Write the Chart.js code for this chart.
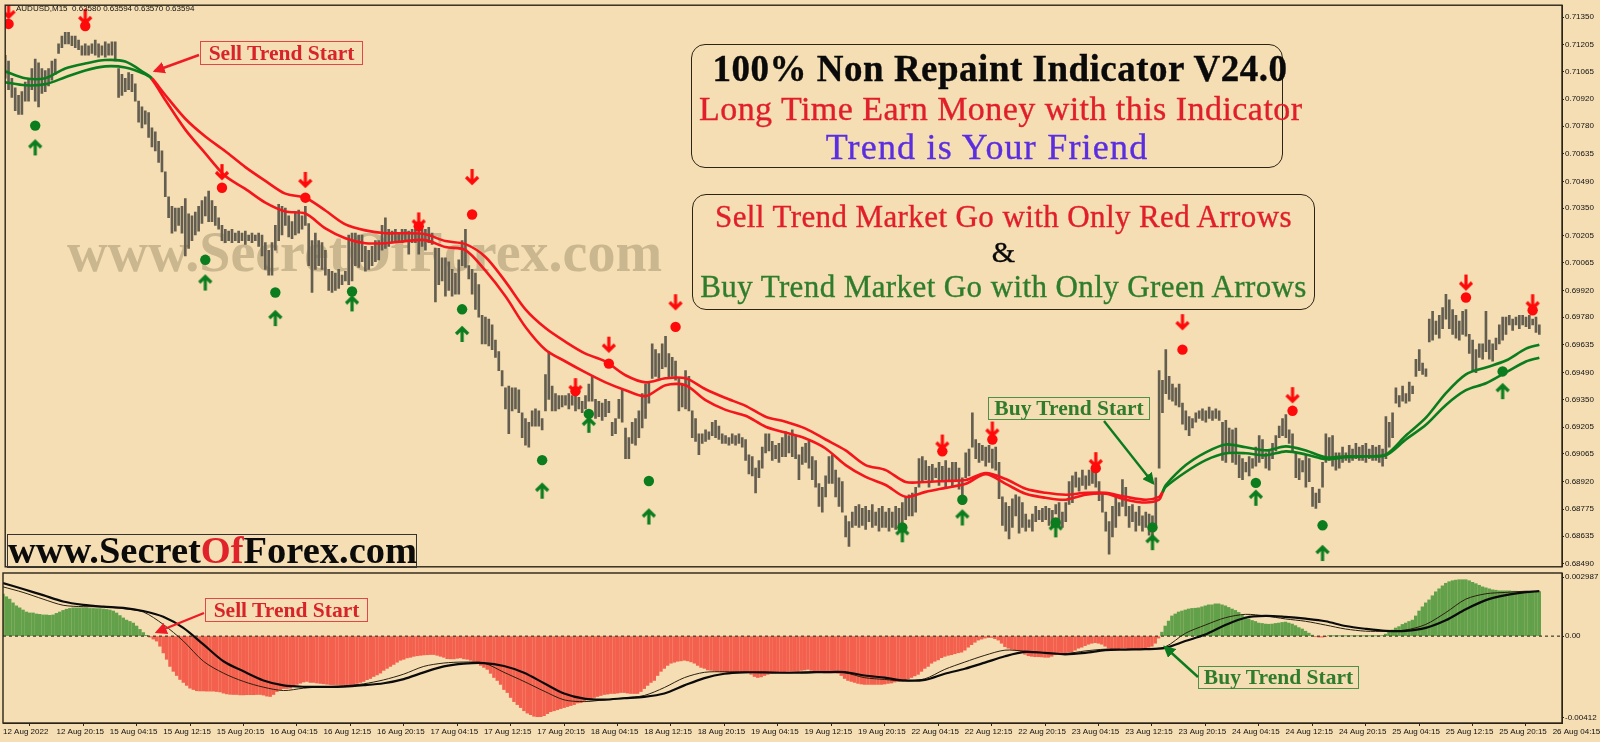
<!DOCTYPE html>
<html>
<head>
<meta charset="utf-8">
<title>AUDUSD M15</title>
<script src="https://cdn.jsdelivr.net/npm/chart.js@4/dist/chart.umd.min.js"></script>
<style>
    html, body { margin: 0; padding: 0; background: #f5deb3; }
    #page { position: relative; width: 1600px; height: 742px; overflow: hidden; background: #f5deb3; }
    canvas { position: absolute; left: 0; }
    #main-chart { top: 0; }
    #osc-chart { top: 572px; }
    .note { position: absolute; font-family: "Liberation Serif", serif; text-align: center; white-space: nowrap; -webkit-text-stroke: 0.35px currentColor; }
    .box { position: absolute; border: 1px solid #2b2417; border-radius: 14px; box-sizing: border-box; }
    .tag { position: absolute; box-sizing: border-box; font-family: "Liberation Serif", serif; font-weight: bold; text-align: center; white-space: nowrap; font-size: 21.5px; }
    .tag.sell { color: #d8232a; border: 1px solid #e0474a; }
    .tag.buy { color: #2f7d2c; border: 1px solid #4d9148; }
    #symbol { position: absolute; left: 16px; top: 4px; font: 8px "Liberation Sans", sans-serif; color: #111; white-space: pre; }
    #watermark { position: absolute; left: 67px; top: 220px; font: bold 56px "Liberation Serif", serif; color: #cab78f; white-space: nowrap; }
    #logo { position: absolute; left: 7px; top: 534px; width: 410px; height: 34px; border: 1px solid #333; box-sizing: border-box;
            font: bold 38.5px/31px "Liberation Serif", serif; color: #0b0b0b; text-align: center; white-space: nowrap; }
    #callouts { position: absolute; left: 0; top: 0; }
</style>
</head>
<body>
<div id="page">
    <div id="watermark">www.SecretOfForex.com</div>
    <canvas id="main-chart" width="1600" height="572"></canvas>
    <canvas id="osc-chart" width="1600" height="170"></canvas>

    <div id="symbol">AUDUSD,M15  0.63580 0.63594 0.63570 0.63594</div>

    <div class="box" style="left:691px;top:44px;width:592px;height:124px"></div>
    <div class="note" style="left:704px;width:592px;top:47px;font-size:37px;font-weight:bold;letter-spacing:0.5px;color:#0a0a0a">100% Non Repaint Indicator V24.0</div>
    <div class="note" style="left:699px;width:592px;top:90px;font-size:34px;letter-spacing:0.45px;color:#e01f2a">Long Time Earn Money with this Indicator</div>
    <div class="note" style="left:691px;width:592px;top:126px;font-size:36px;letter-spacing:1.2px;color:#5a2ee0">Trend is Your Friend</div>

    <div class="box" style="left:692px;top:194px;width:623px;height:116px"></div>
    <div class="note" style="left:692px;width:623px;top:199px;font-size:31px;letter-spacing:0.4px;color:#e01f2a">Sell Trend Market Go with Only Red Arrows</div>
    <div class="note" style="left:692px;width:623px;top:235px;font-size:30px;color:#0a0a0a">&amp;</div>
    <div class="note" style="left:692px;width:623px;top:269px;font-size:31px;letter-spacing:0.4px;color:#2f7d2c">Buy Trend Market Go with Only Green Arrows</div>

    <div id="logo">www.Secret<span style="color:#e0232b">Of</span>Forex.com</div>

    <div class="tag sell" style="left:200px;top:41px;width:163px;height:24px;line-height:22px">Sell Trend Start</div>
    <div class="tag sell" style="left:205px;top:598px;width:163px;height:24px;line-height:22px">Sell Trend Start</div>
    <div class="tag buy" style="left:988px;top:397px;width:162px;height:23px;line-height:21px">Buy Trend Start</div>
    <div class="tag buy" style="left:1198px;top:666px;width:161px;height:23px;line-height:21px">Buy Trend Start</div>

    <svg id="callouts" width="1600" height="742">
        <defs>
            <marker id="head-red" markerWidth="5" markerHeight="5" refX="4" refY="2.5" orient="auto"><path d="M0,0 L5,2.5 L0,5 Z" fill="#ee1c25"/></marker>
            <marker id="head-green" markerWidth="5" markerHeight="5" refX="4" refY="2.5" orient="auto"><path d="M0,0 L5,2.5 L0,5 Z" fill="#0c7a1e"/></marker>
        </defs>
        <line x1="199" y1="55" x2="155" y2="71" stroke="#ee1c25" stroke-width="2.4" marker-end="url(#head-red)"/>
        <line x1="204" y1="613" x2="157" y2="632" stroke="#ee1c25" stroke-width="2.4" marker-end="url(#head-red)"/>
        <line x1="1104" y1="421" x2="1153" y2="483" stroke="#0c7a1e" stroke-width="2.4" marker-end="url(#head-green)"/>
        <line x1="1198" y1="677" x2="1165" y2="647" stroke="#0c7a1e" stroke-width="2.4" marker-end="url(#head-green)"/>
    </svg>
</div>

<script>
// price bars, 30 minute steps, in 0.0001 price units
const barHigh = [
    7115,7112,7103,7098,7094,7096,7101,7103,7108,7113,7111,7108,7107,7108,7112,7113,
    7121,7125,7127,7127,7125,7125,7123,7120,7121,7120,7121,7123,7121,7120,7122,7121,
    7122,7122,7108,7105,7103,7106,7105,7100,7091,7088,7086,7085,7077,7075,7070,7065,
    7054,7041,7036,7035,7035,7036,7040,7032,7031,7033,7036,7039,7041,7044,7039,7036,
    7030,7026,7024,7023,7024,7022,7023,7022,7023,7021,7022,7021,7022,7021,7017,7013,
    7017,7026,7037,7036,7035,7031,7028,7033,7034,7031,7036,7027,7018,7022,7018,7017,
    7013,7003,7002,7001,7003,7000,7002,7021,7022,7022,7021,7021,7015,7013,7015,7018,
    7018,7026,7030,7024,7023,7024,7022,7024,7024,7023,7024,7024,7023,7024,7024,7025,
    7022,7014,7014,7009,7009,7007,7003,7001,7008,7018,7024,7005,7003,7001,6995,6979,
    6978,6977,6974,6966,6960,6950,6941,6942,6941,6941,6940,6928,6925,6923,6929,6930,
    6929,6925,6948,6960,6942,6938,6937,6937,6937,6938,6937,6937,6936,6934,6937,6943,
    6947,6935,6934,6933,6935,6934,6923,6925,6935,6940,6920,6915,6923,6925,6929,6938,
    6943,6944,6964,6961,6959,6964,6968,6959,6957,6955,6946,6943,6950,6947,6929,6925,
    6917,6917,6919,6918,6923,6924,6921,6917,6916,6915,6917,6916,6917,6915,6914,6906,
    6905,6899,6903,6910,6917,6917,6913,6911,6912,6915,6918,6916,6919,6916,6906,6910,
    6912,6913,6905,6903,6891,6889,6895,6905,6906,6898,6894,6892,6874,6871,6876,6879,
    6880,6878,6879,6877,6880,6876,6878,6879,6876,6878,6876,6879,6878,6881,6884,6885,
    6886,6889,6904,6905,6903,6900,6901,6899,6902,6900,6903,6899,6902,6902,6899,6894,
    6907,6909,6928,6914,6912,6911,6910,6911,6909,6910,6902,6884,6881,6879,6883,6885,
    6884,6881,6875,6872,6875,6879,6877,6878,6879,6878,6877,6880,6881,6876,6881,6892,
    6895,6897,6894,6898,6895,6898,6899,6900,6892,6886,6876,6871,6879,6884,6881,6893,
    6889,6879,6880,6876,6879,6874,6876,6875,6874,6894,6950,6945,6961,6947,6943,6941,
    6943,6933,6929,6926,6925,6928,6929,6930,6929,6931,6929,6930,6929,6923,6924,6920,
    6919,6920,6906,6904,6902,6905,6904,6910,6916,6914,6907,6908,6912,6916,6921,6925,
    6927,6919,6917,6907,6904,6903,6906,6904,6889,6886,6888,6902,6917,6915,6916,6907,
    6907,6910,6907,6911,6909,6912,6910,6911,6912,6909,6911,6910,6911,6909,6926,6923,
    6928,6941,6937,6942,6938,6944,6942,6956,6961,6954,6951,6977,6981,6976,6979,6983,
    6990,6987,6982,6979,6976,6981,6982,6969,6966,6961,6964,6964,6981,6966,6964,6967,
    6974,6978,6978,6979,6977,6978,6979,6979,6978,6979,6977,6978,6974
];
const barLow = [
    7103,7097,7093,7086,7084,7084,7091,7091,7097,7091,7088,7095,7096,7099,7102,7105,
    7116,7119,7121,7121,7120,7119,7118,7115,7115,7115,7116,7115,7114,7115,7114,7115,
    7115,7112,7093,7094,7096,7097,7096,7091,7080,7077,7079,7072,7067,7065,7059,7054,
    7041,7030,7022,7023,7026,7022,7010,7014,7018,7021,7023,7027,7031,7028,7028,7026,
    7024,7018,7017,7018,7017,7018,7017,7018,7016,7018,7017,7018,7015,7010,7003,7000,
    7000,7013,7018,7021,7026,7020,7019,7021,7022,7024,7026,7005,6991,7003,7005,7003,
    7000,6992,6991,6992,6993,6995,6997,6995,6997,7005,7004,7007,7002,7003,7005,7007,
    7008,7013,7014,7015,7017,7018,7018,7017,7018,7011,7017,7017,7011,7015,7013,7017,
    7016,6986,6995,6997,6989,6992,6989,6990,6990,7005,7004,6998,6990,6982,6978,6964,
    6964,6963,6961,6957,6950,6942,6930,6917,6929,6930,6928,6915,6911,6910,6921,6921,
    6921,6919,6929,6935,6929,6929,6930,6931,6932,6930,6932,6929,6930,6928,6930,6934,
    6934,6925,6926,6924,6926,6928,6916,6917,6925,6923,6904,6904,6912,6911,6915,6920,
    6925,6933,6946,6947,6946,6951,6952,6946,6947,6945,6929,6931,6930,6929,6915,6913,
    6906,6912,6913,6914,6916,6915,6914,6912,6912,6911,6912,6911,6912,6910,6903,6896,
    6895,6886,6894,6899,6907,6908,6903,6904,6902,6905,6905,6907,6905,6904,6893,6901,
    6902,6899,6893,6889,6879,6876,6884,6891,6891,6884,6879,6876,6863,6858,6868,6869,
    6868,6869,6867,6871,6868,6869,6866,6868,6868,6866,6868,6867,6869,6869,6872,6874,
    6874,6876,6889,6892,6893,6889,6892,6894,6890,6893,6889,6893,6889,6892,6888,6880,
    6894,6895,6910,6904,6902,6903,6900,6902,6899,6898,6883,6869,6866,6862,6868,6874,
    6865,6868,6866,6868,6866,6871,6872,6871,6872,6869,6868,6875,6869,6868,6871,6880,
    6881,6889,6887,6890,6888,6890,6891,6889,6882,6876,6866,6854,6863,6868,6874,6879,
    6874,6868,6871,6866,6869,6866,6868,6864,6861,6868,6899,6928,6938,6935,6934,6932,
    6931,6922,6919,6916,6920,6923,6925,6924,6923,6925,6924,6925,6924,6903,6902,6907,
    6902,6901,6894,6893,6897,6895,6899,6900,6902,6904,6899,6898,6904,6908,6915,6916,
    6915,6912,6908,6894,6893,6897,6889,6892,6879,6878,6881,6889,6902,6903,6900,6898,
    6899,6902,6903,6902,6903,6904,6903,6903,6902,6904,6903,6903,6902,6900,6904,6910,
    6915,6933,6931,6934,6933,6934,6938,6947,6950,6948,6947,6965,6966,6969,6967,6972,
    6977,6972,6969,6967,6966,6969,6968,6959,6950,6949,6957,6956,6960,6956,6955,6961,
    6964,6966,6969,6974,6971,6974,6972,6974,6973,6972,6974,6970,6969
];

// trend band, bar number of each reading and both edges in 0.00001 price units
const bandBars = [0,6,12,18,24,30,36,42,44,48,54,60,66,72,78,84,90,96,102,108,114,120,126,132,138,144,150,156,162,168,
    174,180,186,192,198,204,210,216,222,228,234,240,246,252,258,264,270,276,282,288,294,300,306,312,318,324,330,336,342,
    346,347,348,354,360,366,372,378,384,390,396,402,408,414,420,426,432,438,444,450,456,460];
const bandUpper = [71066,71030,71030,71081,71107,71125,71117,71055,71030,70942,70818,70725,70648,70565,70493,70426,70405,70338,70265,70234,70219,70219,70214,70178,70162,70095,69966,69821,69723,69651,
    69589,69548,69476,69439,69460,69460,69403,69357,69316,69259,69233,69197,69140,69083,69006,68980,68918,68918,68923,68928,68964,68933,68882,68861,68851,68861,68861,68840,68825,
    68840,68866,68902,69006,69073,69114,69099,69083,69104,69083,69047,69052,69052,69062,69161,69254,69383,69481,69517,69553,69615,69636];
const bandLower = [71009,70993,70999,71035,71071,71092,71086,71050,71024,70916,70761,70637,70518,70451,70379,70333,70322,70245,70193,70167,70167,70178,70183,70147,70131,70023,69889,69729,69610,69548,
    69491,69439,69398,69367,69424,69424,69346,69295,69264,69207,69176,69145,69093,69006,68944,68902,68840,68866,68887,68908,68959,68908,68856,68835,68825,68851,68856,68825,68810,
    68825,68861,68892,68970,69032,69068,69068,69057,69078,69062,69037,69047,69052,69057,69140,69217,69321,69398,69434,69491,69548,69568];
const sellStartBar = 44;
const buyStartBar = 347;

// signals: bar number, dot price, arrow price
const sellBars = [1,24,65,90,124,140,171,181,201,281,296,327,353,386,438,458];
const sellDots = [71314,71303,70457,70405,70255,70317,69393,69537,69729,69078,69140,68990,69610,69290,69883,69816];
const sellArrows = [71381,71350,70539,70498,70286,70513,69419,69636,69858,69124,69192,69032,69754,69372,69961,69858];
const buyBars = [9,60,81,104,137,161,175,193,269,287,315,344,375,395,449];
const buyDots = [70782,70080,69909,69914,69821,69032,69274,68923,68680,68825,68706,68680,68913,68691,69496];
const buyArrows = [70668,69961,69775,69852,69692,68872,69217,68737,68644,68732,68670,68603,68835,68546,69393];

// lower panel histogram, one value per bar, in 0.00001 units
const oscHist = [
    212,199,187,168,153,143,132,122,117,117,112,110,107,107,105,107,115,122,130,136,
    140,143,143,143,143,143,140,140,139,139,137,135,132,127,117,104,92,81,74,66,
    51,34,18,4,-5,-15,-25,-51,-85,-117,-153,-178,-199,-219,-234,-249,-263,-270,-276,-277,
    -277,-278,-278,-278,-280,-282,-288,-292,-294,-295,-295,-297,-297,-296,-296,-296,-295,-295,-298,-303,
    -305,-295,-280,-270,-265,-265,-263,-254,-244,-238,-232,-229,-234,-234,-237,-239,-241,-243,-245,-245,
    -245,-245,-245,-245,-245,-244,-239,-234,-229,-220,-214,-204,-196,-187,-173,-163,-153,-143,-132,-122,
    -117,-110,-107,-102,-99,-97,-95,-94,-93,-93,-97,-102,-107,-114,-115,-115,-112,-110,-115,-117,
    -122,-127,-137,-148,-158,-168,-188,-209,-224,-244,-270,-285,-310,-331,-346,-361,-377,-389,-397,-405,
    -407,-407,-402,-392,-382,-377,-372,-366,-361,-356,-351,-346,-338,-336,-328,-321,-316,-310,-305,-300,
    -295,-293,-290,-290,-288,-285,-285,-288,-290,-290,-290,-280,-265,-249,-234,-224,-199,-178,-163,-148,
    -137,-132,-127,-125,-122,-125,-130,-137,-148,-158,-163,-171,-173,-176,-178,-181,-181,-183,-183,-183,
    -183,-183,-183,-183,-193,-204,-209,-206,-199,-193,-188,-186,-183,-183,-181,-178,-178,-178,-178,-173,
    -171,-168,-173,-178,-183,-183,-186,-186,-186,-186,-188,-199,-214,-224,-229,-234,-239,-242,-244,-244,
    -244,-244,-244,-244,-242,-239,-237,-232,-229,-224,-219,-216,-209,-201,-193,-178,-163,-153,-137,-127,
    -120,-109,-102,-97,-94,-89,-84,-81,-71,-56,-43,-31,-20,-15,-10,-7,-7,-13,-20,-36,
    -53,-61,-66,-71,-74,-81,-92,-99,-102,-104,-104,-105,-107,-107,-102,-94,-89,-87,-84,-81,
    -79,-71,-61,-56,-48,-41,-36,-33,-36,-41,-51,-61,-66,-66,-64,-61,-61,-64,-66,-66,
    -66,-66,-59,-56,-51,-36,-10,20,51,76,102,112,122,127,132,137,140,141,143,148,
    153,158,158,163,163,158,153,145,137,130,120,107,97,87,79,74,66,64,61,60,
    61,64,66,69,71,66,61,53,43,36,25,15,5,-3,-5,-5,-3,2,1,1,
    1,1,1,1,1,1,1,1,1,1,1,1,1,2,10,20,31,41,48,59,
    66,74,81,102,127,148,168,183,204,224,239,254,267,275,280,283,285,285,285,280,
    272,265,257,249,244,239,234,232,229,229,229,229,227,227,226,226,226,225,225,225,225
];

// lower panel averages, every three hours plus the last bar
const oscBars = [0,6,12,18,24,30,36,42,48,54,60,66,72,78,84,90,96,102,108,114,120,126,132,138,144,150,156,162,168,174,
    180,186,192,198,204,210,216,222,228,234,240,246,252,258,264,270,276,282,288,294,300,306,312,318,324,330,336,342,
    348,354,360,366,372,378,384,390,396,402,408,414,420,426,432,438,444,450,456,460];
const oscSlow = [268,238,207,175,158,149,143,127,98,42,-42,-127,-178,-224,-249,-256,-256,-255,-248,-238,-217,-183,-153,-139,-136,
    -151,-185,-238,-290,-316,-321,-314,-307,-290,-249,-212,-190,-183,-183,-185,-183,
    -182,-182,-199,-210,-224,-221,-190,-165,-134,-102,-80,-85,-92,-85,-71,-68,-66,
    -59,-25,8,56,93,102,97,88,75,51,37,27,27,42,80,136,182,207,222,227];
const oscFast = [249,221,187,156,149,148,139,122,59,-25,-127,-187,-229,-258,-275,-263,-256,-251,-241,-221,-192,-153,-136,-131,-136,
    -183,-229,-278,-322,-331,-322,-312,-300,-260,-210,-183,-180,-182,-183,-185,-187,
    -182,-185,-210,-219,-227,-216,-168,-131,-97,-71,-76,-83,-88,-75,-66,-68,-66,
    -54,14,56,93,110,102,87,75,56,36,25,25,31,59,119,187,214,221,227,227];

const priceTicks = [0.7135,0.71205,0.71065,0.7092,0.7078,0.70635,0.7049,0.7035,0.70205,0.70065,0.6992,0.6978,0.69635,0.6949,0.6935,0.69205,0.69065,0.6892,0.68775,0.68635,0.6849];
const oscTicks = [0.002987,0,-0.00412];
const oscTickLabels = ["0.002987","0.00","-0.00412"];
const timeTickBars = [0,16,32,48,64,80,96,112,128,144,160,176,192,208,224,240,256,272,288,304,320,336,352,368,384,400,416,432,448,464];
const timeTickLabels = ["12 Aug 2022","12 Aug 20:15","15 Aug 04:15","15 Aug 12:15","15 Aug 20:15","16 Aug 04:15","16 Aug 12:15","16 Aug 20:15",
    "17 Aug 04:15","17 Aug 12:15","17 Aug 20:15","18 Aug 04:15","18 Aug 12:15","18 Aug 20:15","19 Aug 04:15","19 Aug 12:15","19 Aug 20:15",
    "22 Aug 04:15","22 Aug 12:15","22 Aug 20:15","23 Aug 04:15","23 Aug 12:15","23 Aug 20:15","24 Aug 04:15","24 Aug 12:15","24 Aug 20:15",
    "25 Aug 04:15","25 Aug 12:15","25 Aug 20:15","26 Aug 04:15"];

const RED = "#f4161c";
const GREEN = "#0b7d1f";
const AXIS = "#2b2417";
const LAST_SLOT = 466.8;

function arrowImage(color, up){
    const c = document.createElement("canvas");
    c.width = 16;
    c.height = 18;
    const g = c.getContext("2d");
    if (!up){
        g.translate(0, 18);
        g.scale(1, -1);
    }
    g.strokeStyle = color;
    g.lineWidth = 3.2;
    g.beginPath();
    g.moveTo(8, 17);
    g.lineTo(8, 3);
    g.moveTo(2, 9);
    g.lineTo(8, 3);
    g.lineTo(14, 9);
    g.stroke();
    return c;
}

function points(bars, values){
    return bars.map((b, i) => ({x: b, y: values[i] / 100000}));
}

function bandSegment(ctx){
    const b = ctx.p0.parsed.x;
    return (b < sellStartBar || b >= buyStartBar) ? GREEN : RED;
}

// dark frame around the plot area
const framePlugin = {
    id: "frame",
    afterDraw(chart){
        const a = chart.chartArea;
        const g = chart.ctx;
        g.save();
        g.strokeStyle = AXIS;
        g.lineWidth = 1.4;
        g.strokeRect(a.left, a.top, a.right - a.left, a.bottom - a.top);
        g.restore();
    }
};

const tickFont = {family: "'Liberation Sans', sans-serif", size: 8};

function yAxis(min, max, ticks, label){
    return {
        position: "right",
        min: min,
        max: max,
        afterFit(s){
            s.width = 38;
            s.paddingTop = 0;
            s.paddingBottom = 0;
        },
        afterBuildTicks(s){ s.ticks = ticks.map(v => ({value: v})); },
        grid: {drawOnChartArea: false, tickLength: 2, color: AXIS},
        border: {color: AXIS},
        ticks: {autoSkip: false, padding: 1, color: "#111", font: tickFont, callback: label}
    };
}

new Chart(document.getElementById("main-chart"), {
    type: "bar",
    plugins: [framePlugin],
    data: {
        datasets: [
            {
                type: "bar",
                order: 5,
                data: barHigh.map((h, i) => ({x: i, y: [barLow[i] / 10000, h / 10000]})),
                backgroundColor: "#645e50",
                barThickness: 2,
                borderWidth: 0
            },
            {
                type: "line",
                order: 4,
                data: points(bandBars, bandUpper),
                borderWidth: 2.6,
                tension: 0.3,
                pointRadius: 0,
                borderColor: RED,
                segment: {borderColor: bandSegment}
            },
            {
                type: "line",
                order: 4,
                data: points(bandBars, bandLower),
                borderWidth: 2.6,
                tension: 0.3,
                pointRadius: 0,
                borderColor: RED,
                segment: {borderColor: bandSegment}
            },
            {
                type: "scatter",
                order: 1,
                data: points(sellBars, sellDots),
                pointRadius: 5.2,
                pointBackgroundColor: "#ff0a0a",
                pointBorderWidth: 0
            },
            {
                type: "scatter",
                order: 1,
                data: points(buyBars, buyDots),
                pointRadius: 5.2,
                pointBackgroundColor: GREEN,
                pointBorderWidth: 0
            },
            {
                type: "scatter",
                order: 1,
                data: points(sellBars, sellArrows),
                pointStyle: arrowImage("#ff0a0a", false)
            },
            {
                type: "scatter",
                order: 1,
                data: points(buyBars, buyArrows),
                pointStyle: arrowImage(GREEN, true)
            }
        ]
    },
    options: {
        responsive: false,
        animation: false,
        devicePixelRatio: 1,
        layout: {padding: {left: 3, top: 2, right: 0, bottom: 1}},
        plugins: {legend: {display: false}, tooltip: {enabled: false}},
        scales: {
            x: {type: "linear", offset: false, min: 0, max: LAST_SLOT, display: false},
            y: yAxis(0.68474, 0.71412, priceTicks, v => v.toFixed(5))
        }
    }
});

new Chart(document.getElementById("osc-chart"), {
    type: "bar",
    plugins: [framePlugin],
    data: {
        datasets: [
            {
                type: "bar",
                order: 5,
                data: oscHist.map((v, i) => ({x: i, y: v / 100000})),
                backgroundColor: oscHist.map(v => v < 0 ? "#f4604e" : "#62a04a"),
                barThickness: 2.8,
                borderWidth: 0
            },
            {
                type: "line",
                order: 3,
                data: [{x: 0, y: 0}, {x: LAST_SLOT, y: 0}],
                borderColor: "#1a1a12",
                borderWidth: 1,
                borderDash: [3, 3],
                pointRadius: 0
            },
            {
                type: "line",
                order: 2,
                data: points(oscBars, oscFast),
                borderColor: "#2a2010",
                borderWidth: 1,
                tension: 0.3,
                pointRadius: 0
            },
            {
                type: "line",
                order: 1,
                data: points(oscBars, oscSlow),
                borderColor: "#0b0b0b",
                borderWidth: 2.2,
                tension: 0.3,
                pointRadius: 0
            }
        ]
    },
    options: {
        responsive: false,
        animation: false,
        devicePixelRatio: 1,
        layout: {padding: {left: 3, top: 1, right: 0, bottom: 0}},
        plugins: {legend: {display: false}, tooltip: {enabled: false}},
        scales: {
            x: {
                type: "linear",
                offset: false,
                min: 0,
                max: LAST_SLOT,
                afterFit(s){
                    s.height = 19;
                    s.paddingLeft = 0;
                    s.paddingRight = 0;
                },
                afterBuildTicks(s){ s.ticks = timeTickBars.map(v => ({value: v})); },
                grid: {drawOnChartArea: false, tickLength: 3, color: AXIS},
                border: {color: AXIS},
                ticks: {
                    autoSkip: false,
                    maxRotation: 0,
                    align: "start",
                    padding: 1,
                    color: "#111",
                    font: tickFont,
                    callback: (v, i) => timeTickLabels[i]
                }
            },
            y: yAxis(-0.00439, 0.00319, oscTicks, (v, i) => oscTickLabels[i])
        }
    }
});
</script>
</body>
</html>
